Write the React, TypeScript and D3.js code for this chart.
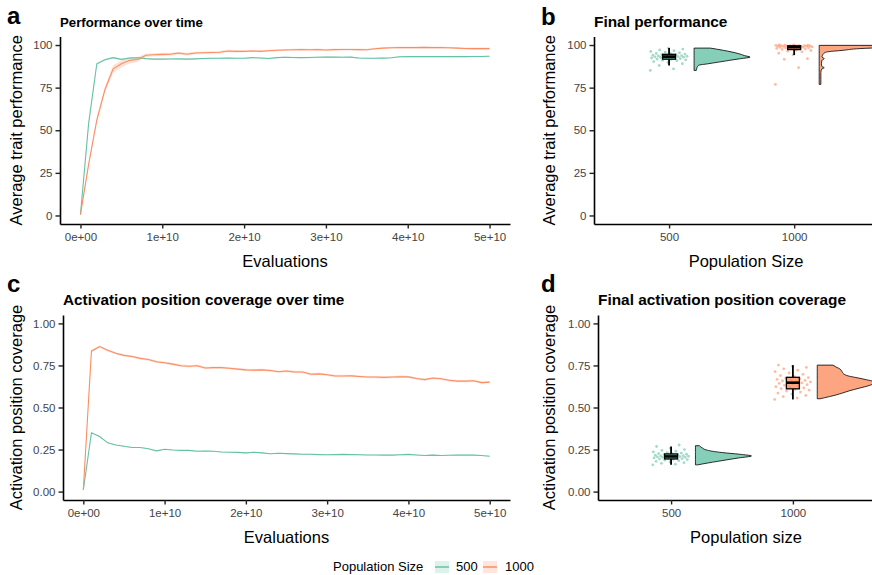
import { useEffect, useRef } from "react";
import * as d3 from "d3";

const sizes = ["500", "1000"];
const palette = ["#66c2a5", "#fc8d62"];

// evaluations, one sample every 1e9
const evalSteps = d3.range(0, 51).map(i => i * 1e9);
const evalTicks = [0, 1e10, 2e10, 3e10, 4e10, 5e10];
const evalTickLabels = ["0e+00", "1e+10", "2e+10", "3e+10", "4e+10", "5e+10"];

const perfTicks = [0, 25, 50, 75, 100];
const perfTickLabels = ["0", "25", "50", "75", "100"];
const covTicks = [0, 0.25, 0.5, 0.75, 1];
const covTickLabels = ["0.00", "0.25", "0.50", "0.75", "1.00"];

// mean trait performance over time
const perf500 = [
  0.5, 54, 89, 91.4, 92.6, 91.6, 92.4, 92.5, 92, 91.7, 91.7,
  91.8, 91.9, 91.7, 91.9, 92.1, 92.2, 92.2, 92.3, 92.2, 92.2,
  92.6, 92.4, 92.1, 92.6, 92.8, 92.7, 92.6, 92.7, 92.8, 93,
  92.9, 92.8, 92.9, 92.4, 92.2, 92.2, 92.3, 92.5, 93.1, 93.2,
  93.2, 93.2, 93.2, 93.2, 93.2, 93.2, 93.2, 93.3, 93.3, 93.4,
];
const perf1000 = [
  0.5, 30, 56, 74, 86, 89, 91, 91.5, 94, 94.3, 94.5,
  94.6, 95.3, 94.6, 95.3, 95.5, 95.6, 95.8, 96.5, 96.3, 96.3,
  96.5, 96.3, 96.6, 96.9, 97.1, 97.2, 97.3, 97.2, 97.3, 97.1,
  97.3, 97.4, 97.4, 97.3, 97.2, 97.8, 98.2, 98.4, 98.5, 98.5,
  98.5, 98.6, 98.5, 98.5, 98.4, 98.2, 98, 97.9, 97.9, 97.9,
];
const perfSe500 = [
  0.2, 0.8, 0.7, 0.5, 0.5, 0.4, 0.4, 0.4, 0.4, 0.4, 0.4,
  0.4, 0.4, 0.4, 0.4, 0.4, 0.4, 0.4, 0.4, 0.4, 0.4,
  0.4, 0.4, 0.4, 0.4, 0.4, 0.4, 0.4, 0.4, 0.4, 0.4,
  0.4, 0.4, 0.4, 0.4, 0.4, 0.4, 0.4, 0.4, 0.4, 0.4,
  0.4, 0.4, 0.4, 0.4, 0.4, 0.4, 0.4, 0.4, 0.4, 0.4,
];
const perfSe1000 = [
  0.2, 1.2, 1.6, 1.9, 2.2, 2.1, 1.8, 1.5, 1.0, 0.9, 0.9,
  0.8, 0.8, 0.8, 0.8, 0.7, 0.7, 0.7, 0.7, 0.7, 0.6,
  0.6, 0.6, 0.6, 0.6, 0.6, 0.6, 0.6, 0.6, 0.6, 0.6,
  0.6, 0.6, 0.6, 0.6, 0.6, 0.6, 0.6, 0.6, 0.6, 0.6,
  0.6, 0.6, 0.6, 0.6, 0.6, 0.6, 0.6, 0.6, 0.6, 0.6,
];

// activation position coverage over time
const cov500 = [
  0.01, 0.35, 0.327, 0.29, 0.277, 0.27, 0.262, 0.262, 0.255, 0.242, 0.252,
  0.247, 0.245, 0.245, 0.24, 0.241, 0.24, 0.235, 0.234, 0.233, 0.23,
  0.234, 0.23, 0.225, 0.228, 0.226, 0.224, 0.222, 0.222, 0.22, 0.219,
  0.22, 0.221, 0.22, 0.219, 0.218, 0.218, 0.217, 0.217, 0.219, 0.221,
  0.218, 0.215, 0.217, 0.215, 0.216, 0.217, 0.217, 0.217, 0.215, 0.21,
];
const cov1000 = [
  0.01, 0.835, 0.862, 0.84, 0.822, 0.81, 0.803, 0.792, 0.785, 0.772, 0.766,
  0.758, 0.748, 0.745, 0.748, 0.735, 0.737, 0.737, 0.733, 0.728, 0.724,
  0.722, 0.724, 0.72, 0.713, 0.717, 0.711, 0.711, 0.698, 0.7, 0.695,
  0.687, 0.687, 0.688, 0.684, 0.681, 0.681, 0.679, 0.681, 0.683, 0.682,
  0.672, 0.666, 0.675, 0.671, 0.662, 0.657, 0.657, 0.659, 0.648, 0.651,
];
const covSe500 = new Array(51).fill(0.003);
const covSe1000 = new Array(51).fill(0.007);

// final values per run
const finalPerf500 = [
  85.1, 86.0, 88.0, 89.0, 89.8, 90.3, 90.8, 91.0, 91.3, 91.6,
  91.8, 92.0, 92.2, 92.4, 92.6, 92.7, 92.9, 93.0, 93.1, 93.2,
  93.3, 93.4, 93.5, 93.6, 93.7, 93.8, 94.0, 94.2, 94.4, 94.7,
  94.9, 95.1, 95.4, 95.8, 96.2, 96.7, 97.1, 97.6, 98.2,
];
const finalPerf1000 = [
  76.9, 86.7, 91.6, 92.0, 94.2, 95.2, 96.0, 96.4, 96.8, 97.1,
  97.4, 97.6, 97.8, 98.0, 98.1, 98.3, 98.4, 98.5, 98.6, 98.7,
  98.8, 98.9, 99.0, 99.1, 99.2, 99.3, 99.3, 99.4, 99.5, 99.5,
  99.6, 99.6, 99.7, 99.7, 99.8, 99.8, 99.9, 99.9, 100, 100,
];
const finalCov500 = [
  0.159, 0.163, 0.168, 0.172, 0.176, 0.18, 0.184, 0.187, 0.19, 0.192,
  0.194, 0.196, 0.198, 0.2, 0.201, 0.203, 0.204, 0.206, 0.207, 0.208,
  0.209, 0.21, 0.211, 0.212, 0.213, 0.215, 0.216, 0.218, 0.22, 0.222,
  0.224, 0.226, 0.229, 0.232, 0.236, 0.24, 0.245, 0.25, 0.258, 0.268, 0.277,
];
const finalCov1000 = [
  0.548, 0.556, 0.565, 0.572, 0.58, 0.586, 0.592, 0.598, 0.603, 0.608,
  0.612, 0.616, 0.62, 0.624, 0.628, 0.632, 0.636, 0.64, 0.643, 0.646,
  0.649, 0.652, 0.655, 0.658, 0.661, 0.664, 0.667, 0.67, 0.674, 0.678,
  0.684, 0.69, 0.697, 0.705, 0.713, 0.722, 0.73, 0.738, 0.745, 0.752,
];

// half-violin density profiles [value, relative density]
const perfDens500: [number, number][] = [
  [85.1, 0.04], [86.5, 0.05], [88.1, 0.08], [89, 0.25], [90, 0.44], [91, 0.63],
  [92, 0.83], [92.9, 1.0], [93.8, 0.9], [94.9, 0.8], [96, 0.66], [96.9, 0.52],
  [97.6, 0.4], [98.2, 0.29],
];
const perfDens1000: [number, number][] = [
  [76.9, 0.03], [80, 0.03], [84, 0.03], [86, 0.05], [86.7, 0.09], [87.4, 0.05],
  [89, 0.04], [91, 0.05], [92, 0.09], [93, 0.05], [94, 0.06], [95, 0.08],
  [95.9, 0.13], [96.9, 0.43], [97.9, 0.73], [98.2, 0.93], [98.8, 1.4],
  [99.3, 1.7], [99.8, 1.6],
];
const covDens500: [number, number][] = [
  [0.159, 0.04], [0.17, 0.22], [0.18, 0.4], [0.19, 0.58], [0.2, 0.77],
  [0.212, 1.0], [0.222, 0.79], [0.232, 0.48], [0.24, 0.3], [0.248, 0.19],
  [0.26, 0.12], [0.273, 0.07],
];
const covDens1000: [number, number][] = [
  [0.552, 0.05], [0.565, 0.22], [0.575, 0.34], [0.585, 0.44], [0.6, 0.58],
  [0.615, 0.75], [0.63, 0.92], [0.645, 1.02], [0.655, 1.0], [0.665, 0.88],
  [0.675, 0.74], [0.688, 0.55], [0.7, 0.47], [0.715, 0.44], [0.73, 0.4],
  [0.742, 0.33], [0.752, 0.28],
];

const FONT = "'Liberation Sans', Arial, Helvetica, sans-serif";

function styleAxis(g: any) {
  g.attr("font-family", FONT).attr("font-size", 11.5);
  g.select(".domain").attr("stroke", "#000").attr("stroke-width", 1.6);
  g.selectAll(".tick line").attr("stroke", "#222").attr("stroke-width", 1.4);
  g.selectAll(".tick text").attr("fill", "#444");
}

function frame(svg: any, o: any) {
  const gx = svg.append("g")
    .attr("transform", `translate(0,${o.bottom})`)
    .call(d3.axisBottom(o.x).tickValues(o.xTicks).tickFormat((_: any, i: number) => o.xLabels[i])
      .tickSize(4.5).tickSizeOuter(0).tickPadding(4));
  styleAxis(gx);
  const gy = svg.append("g")
    .attr("transform", `translate(${o.left},0)`)
    .call(d3.axisLeft(o.y).tickValues(o.yTicks).tickFormat((_: any, i: number) => o.yLabels[i])
      .tickSize(4.5).tickSizeOuter(0).tickPadding(3));
  styleAxis(gy);

  svg.append("text").text(o.tag)
    .attr("x", o.tagX).attr("y", o.tagY)
    .attr("font-family", FONT).attr("font-weight", "bold").attr("font-size", 24);
  svg.append("text").text(o.title)
    .attr("x", o.left).attr("y", o.top - 10)
    .attr("font-family", FONT).attr("font-weight", "bold").attr("font-size", o.titleSize);
  svg.append("text").text(o.xTitle)
    .attr("x", (o.left + o.right) / 2).attr("y", o.bottom + 43)
    .attr("text-anchor", "middle")
    .attr("font-family", FONT).attr("font-size", 16.5);
  svg.append("text").text(o.yTitle)
    .attr("transform", `translate(${o.yTitleX},${(o.top + o.bottom) / 2}) rotate(-90)`)
    .attr("text-anchor", "middle")
    .attr("font-family", FONT).attr("font-size", 16.5);
}

function timePanel(svg: any, o: any) {
  const x = d3.scaleLinear().domain([-2.5e9, 52.5e9]).range([o.left, o.right]);
  const span = o.yMax - o.yMin;
  const y = d3.scaleLinear().domain([o.yMin - span * 0.05, o.yMax + span * 0.05]).range([o.bottom, o.top]);

  o.series.forEach((s: any) => {
    const ribbon = d3.area<number>()
      .x((_, i) => x(evalSteps[i]))
      .y0((v, i) => y(v - s.se[i]))
      .y1((v, i) => y(v + s.se[i]));
    svg.append("path").attr("d", ribbon(s.values)).attr("fill", s.color).attr("opacity", 0.25);
  });
  o.series.forEach((s: any) => {
    const line = d3.line<number>().x((_, i) => x(evalSteps[i])).y(v => y(v));
    svg.append("path").attr("d", line(s.values)).attr("fill", "none")
      .attr("stroke", s.color).attr("stroke-width", 1.1);
  });

  frame(svg, { ...o, x, y, xTicks: evalTicks, xLabels: evalTickLabels });
}

function rainPanel(svg: any, o: any) {
  // discrete positions 1, 2; range widened by the nudged violins
  const x = d3.scaleLinear().domain([0.4, 2.83]).range([o.left, o.right]);
  const span = o.yMax - o.yMin;
  const y = d3.scaleLinear().domain([o.yMin - span * 0.05, o.yMax + span * 0.05]).range([o.bottom, o.top]);
  const step = x(2) - x(1);

  const clipId = `clip-${o.tag}`;
  svg.append("clipPath").attr("id", clipId).append("rect")
    .attr("x", o.left).attr("y", o.top).attr("width", o.right - o.left).attr("height", o.bottom - o.top);
  const plot = svg.append("g").attr("clip-path", `url(#${clipId})`);

  o.groups.forEach((grp: any, gi: number) => {
    const cx = x(gi + 1);
    const color = palette[gi];

    // raw points (jittered horizontally)
    plot.append("g").selectAll("circle").data(grp.points).enter().append("circle")
      .attr("cx", (_: any, i: number) => cx + (((i * 0.618034) % 1) - 0.5) * 0.3 * step)
      .attr("cy", (d: number) => y(d))
      .attr("r", 1.4)
      .attr("fill", color).attr("opacity", 0.6);

    // half violin
    const base = cx + 0.2 * step;
    const area = d3.area<[number, number]>()
      .curve(d3.curveMonotoneY)
      .y(d => y(d[0]))
      .x0(base)
      .x1(d => base + d[1] * o.violinWidth);
    plot.append("path").attr("d", area(grp.density))
      .attr("fill", color).attr("fill-opacity", 0.8)
      .attr("stroke", "#000").attr("stroke-width", 0.8);

    // boxplot
    const sorted = [...grp.points].sort(d3.ascending);
    const q1 = d3.quantile(sorted, 0.25)!;
    const med = d3.quantile(sorted, 0.5)!;
    const q3 = d3.quantile(sorted, 0.75)!;
    const iqr = q3 - q1;
    const lo = d3.min(sorted.filter(v => v >= q1 - 1.5 * iqr))!;
    const hi = d3.max(sorted.filter(v => v <= q3 + 1.5 * iqr))!;
    const bw = 13;
    const box = plot.append("g");
    box.append("line").attr("x1", cx).attr("x2", cx).attr("y1", y(hi)).attr("y2", y(q3))
      .attr("stroke", "#000").attr("stroke-width", 1.8);
    box.append("line").attr("x1", cx).attr("x2", cx).attr("y1", y(q1)).attr("y2", y(lo))
      .attr("stroke", "#000").attr("stroke-width", 1.8);
    box.append("rect").attr("x", cx - bw / 2).attr("width", bw)
      .attr("y", y(q3)).attr("height", Math.max(0.5, y(q1) - y(q3)))
      .attr("fill", color).attr("fill-opacity", 0.8)
      .attr("stroke", "#000").attr("stroke-width", 1.3);
    box.append("line").attr("x1", cx - bw / 2).attr("x2", cx + bw / 2).attr("y1", y(med)).attr("y2", y(med))
      .attr("stroke", "#000").attr("stroke-width", 2.6);
  });

  frame(svg, { ...o, x, y, xTicks: [1, 2], xLabels: sizes });
}

function App() {
  const ref = useRef<SVGSVGElement>(null);

  useEffect(() => {
    draw();
    // eslint-disable-next-line
  }, []);

  function draw() {
    const svg = d3.select(ref.current);
    svg.selectAll("*").remove();

    timePanel(svg, {
      tag: "a", tagX: 7, tagY: 24,
      title: "Performance over time", titleSize: 13.2,
      left: 60, right: 510, top: 36.5, bottom: 224,
      yMin: 0, yMax: 100, yTicks: perfTicks, yLabels: perfTickLabels,
      xTitle: "Evaluations", yTitle: "Average trait performance", yTitleX: 22,
      series: [
        { values: perf500, se: perfSe500, color: palette[0] },
        { values: perf1000, se: perfSe1000, color: palette[1] },
      ],
    });

    rainPanel(svg, {
      tag: "b", tagX: 541, tagY: 25,
      title: "Final performance", titleSize: 15.4,
      left: 594, right: 898, top: 36.5, bottom: 224,
      yMin: 0, yMax: 100, yTicks: perfTicks, yLabels: perfTickLabels,
      xTitle: "Population Size", yTitle: "Average trait performance", yTitleX: 555,
      violinWidth: 56,
      groups: [
        { points: finalPerf500, density: perfDens500 },
        { points: finalPerf1000, density: perfDens1000 },
      ],
    });

    timePanel(svg, {
      tag: "c", tagX: 7, tagY: 292,
      title: "Activation position coverage over time", titleSize: 15.3,
      left: 63, right: 510, top: 315, bottom: 500,
      yMin: 0, yMax: 1, yTicks: covTicks, yLabels: covTickLabels,
      xTitle: "Evaluations", yTitle: "Activation position coverage", yTitleX: 22,
      series: [
        { values: cov500, se: covSe500, color: palette[0] },
        { values: cov1000, se: covSe1000, color: palette[1] },
      ],
    });

    rainPanel(svg, {
      tag: "d", tagX: 541, tagY: 292,
      title: "Final activation position coverage", titleSize: 15.4,
      left: 598, right: 894, top: 315, bottom: 500,
      yMin: 0, yMax: 1, yTicks: covTicks, yLabels: covTickLabels,
      xTitle: "Population size", yTitle: "Activation position coverage", yTitleX: 555,
      violinWidth: 56,
      groups: [
        { points: finalCov500, density: covDens500 },
        { points: finalCov1000, density: covDens1000 },
      ],
    });

    // legend
    const lg = svg.append("g").attr("font-family", FONT).attr("font-size", 13);
    lg.append("text").text("Population Size").attr("x", 333).attr("y", 571);
    const keys = [
      { x: 435, label: "500", tx: 456 },
      { x: 483, label: "1000", tx: 505 },
    ];
    keys.forEach((k, i) => {
      lg.append("rect").attr("x", k.x).attr("y", 561).attr("width", 14).attr("height", 12)
        .attr("fill", palette[i]).attr("opacity", 0.22);
      lg.append("line").attr("x1", k.x).attr("x2", k.x + 14).attr("y1", 567).attr("y2", 567)
        .attr("stroke", palette[i]).attr("stroke-width", 1.5);
      lg.append("text").text(k.label).attr("x", k.tx).attr("y", 571);
    });
  }

  return (
    <svg ref={ref} width={872} height={575}
      style={{ position: "absolute", left: 0, top: 0, background: "#fff", overflow: "hidden" }} />
  );
}

export default App;
